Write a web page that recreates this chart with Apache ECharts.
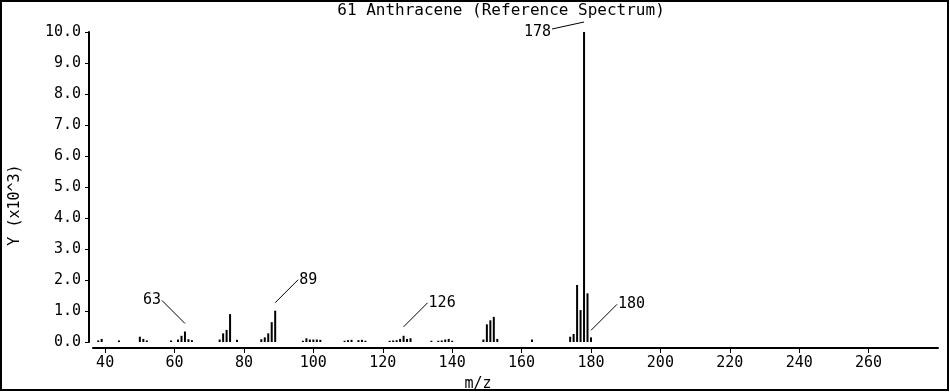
<!DOCTYPE html>
<html>
<head>
<meta charset="utf-8">
<script src="https://cdn.jsdelivr.net/npm/echarts@6/dist/echarts.min.js"></script>
<style>
html,body{margin:0;padding:0;background:#fff;}
#chart{width:950px;height:392px;}
</style>
</head>
<body>
<div id="chart"></div>
<script>
// ---- data ----
const titleText = '61 Anthracene (Reference Spectrum)';
const xAxisName = 'm/z';
const yAxisName = 'Y (x10^3)';
const mzValues = [38,39,44,50,51,52,59,61,62,63,64,65,73,74,75,76,78,85,86,87,88,89,97,98,99,100,101,102,109,110,111,113,114,115,122,123,124,125,126,127,128,134,136,137,138,139,140,149,150,151,152,153,163,174,175,176,177,178,179,180];
const intensities = [0.05,0.1,0.05,0.17,0.1,0.05,0.05,0.08,0.2,0.34,0.09,0.06,0.08,0.28,0.39,0.9,0.07,0.09,0.15,0.28,0.64,1.01,0.04,0.12,0.08,0.08,0.08,0.07,0.04,0.06,0.07,0.06,0.07,0.04,0.04,0.05,0.06,0.1,0.2,0.1,0.12,0.04,0.04,0.05,0.08,0.1,0.04,0.08,0.57,0.7,0.81,0.1,0.08,0.17,0.26,1.84,1.03,10.0,1.57,0.15];
const labeledMz = [63,89,126,178,180];
const xTicks = [40,60,80,100,120,140,160,180,200,220,240,260];
const yTicks = [0,1,2,3,4,5,6,7,8,9,10];

// ---- styles ----
const FONT = '"DejaVu Sans Mono", "Liberation Mono", monospace';
const labelGeom = {
  63:  {start:-8,  dx:-23, dy:-23, ty:0},
  89:  {start:-8,  dx:23,  dy:-23, ty:0},
  126: {start:-9,  dx:24,  dy:-24, ty:0},
  178: {start:-10, dx:-32, dy:7,   ty:3},
  180: {start:-7,  dx:26,  dy:-26, ty:0}
};

const barData = mzValues.map((m, i) => [m, intensities[i]]);
const labelData = labeledMz.map(m => [m, intensities[mzValues.indexOf(m)]]);

const chart = echarts.init(document.getElementById('chart'), null, {renderer:'canvas'});
chart.setOption({
  animation: false,
  backgroundColor: '#fff',
  title: {
    text: titleText,
    left: 501, top: 0, textAlign: 'center',
    padding: [3, 0, 0, 0],
    textStyle: {fontFamily: FONT, fontSize: 16, fontWeight: 'normal', color: '#000'}
  },
  grid: {left: 93, right: 12, top: 32, bottom: 50, containLabel: false, outerBoundsMode: 'none'},
  xAxis: {
    type: 'value', min: 36.5, max: 280, offset: 6,
    name: xAxisName, nameLocation: 'middle', nameGap: 29,
    nameTextStyle: {fontFamily: FONT, fontSize: 15, color: '#000', padding: [0, 75, 0, 0]},
    axisLine: {show: true, onZero: false, lineStyle: {color: '#000', width: 2}},
    axisTick: {show: true, length: 5, customValues: xTicks, lineStyle: {color: '#000', width: 1}},
    axisLabel: {customValues: xTicks, margin: 8, color: '#000', fontFamily: FONT, fontSize: 15},
    splitLine: {show: false}
  },
  yAxis: {
    type: 'value', min: 0, max: 10, offset: 4,
    name: yAxisName, nameLocation: 'middle', nameGap: 66, nameRotate: 90,
    nameTextStyle: {fontFamily: FONT, fontSize: 15, color: '#000', padding: [0, 36, 0, 0]},
    axisLine: {show: true, lineStyle: {color: '#000', width: 2}},
    axisTick: {show: true, length: 4, customValues: yTicks, lineStyle: {color: '#000', width: 1}},
    axisLabel: {customValues: yTicks, margin: 8, color: '#000', fontFamily: FONT, fontSize: 15,
      formatter: v => v.toFixed(1)},
    splitLine: {show: false}
  },
  graphic: [{
    type: 'rect', silent: true, z: 100,
    shape: {x: 1, y: 1, width: 947, height: 389},
    style: {fill: null, stroke: '#000', lineWidth: 2}
  }],
  series: [{
    type: 'bar',
    data: barData,
    barWidth: 2,
    itemStyle: {color: '#000'},
    emphasis: {disabled: true},
    silent: true
  }, {
    type: 'custom',
    data: labelData,
    clip: false,
    silent: true,
    z: 5,
    renderItem: function (params, api) {
      const m = api.value(0), v = api.value(1);
      const top = api.coord([m, v]);
      const g = labelGeom[m];
      const p1 = [top[0], top[1] + g.start];
      const p2 = [p1[0] + g.dx, p1[1] + g.dy];
      const left = g.dx < 0;
      return {
        type: 'group',
        children: [{
          type: 'line',
          shape: {x1: p1[0], y1: p1[1], x2: p2[0], y2: p2[1]},
          style: {stroke: '#000', lineWidth: 1}
        }, {
          type: 'text',
          x: p2[0] + (left ? -1 : 1), y: p2[1] + g.ty,
          style: {text: String(m), fill: '#000', fontFamily: FONT, fontSize: 15,
            align: left ? 'right' : 'left', verticalAlign: 'middle'}
        }]
      };
    }
  }]
});
</script>
</body>
</html>
